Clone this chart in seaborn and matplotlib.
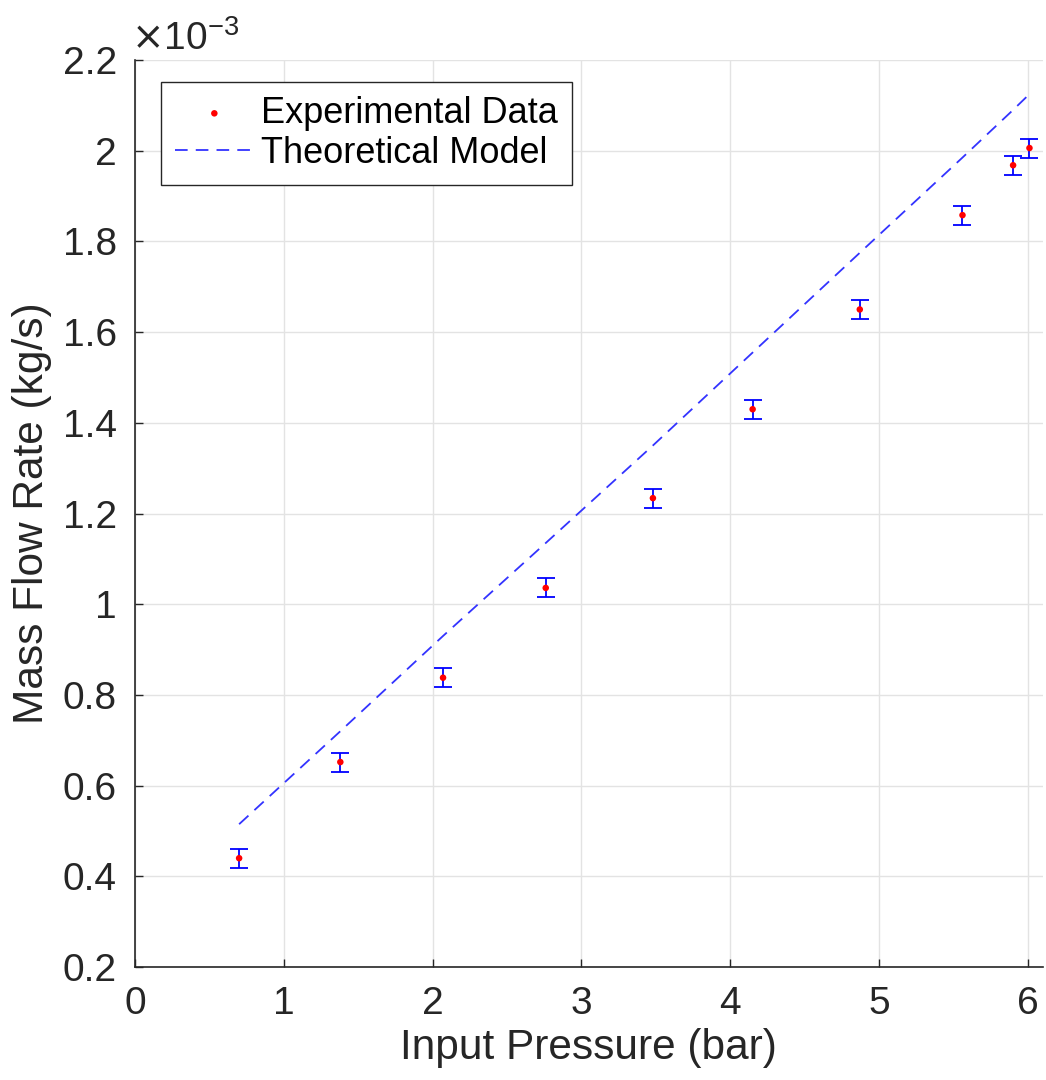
import numpy as np
import pandas as pd
import seaborn as sns
import matplotlib.pyplot as plt
from matplotlib.ticker import FuncFormatter

# mass flow values are in units of 1e-3 kg/s
pressure = [0.70, 1.38, 2.07, 2.76, 3.48, 4.15, 4.87, 5.56, 5.90, 6.01]
flow_exp = [0.440, 0.652, 0.838, 1.036, 1.234, 1.430, 1.650, 1.858, 1.968, 2.006]
flow_err = [0.021, 0.021, 0.021, 0.021, 0.021, 0.021, 0.021, 0.021, 0.021, 0.021]
flow_model = [0.515, 0.720, 0.930, 1.135, 1.350, 1.555, 1.775, 1.985, 2.090, 2.125]

exp_df = pd.DataFrame({'Pressure': pressure, 'Flow': flow_exp, 'Err': flow_err})
model_df = pd.DataFrame({'Pressure': pressure, 'Flow': flow_model})

sns.set_style('whitegrid')
plt.rcParams['font.family'] = ['Liberation Sans', 'DejaVu Sans']
text_col = '#262626'

fig = plt.figure(figsize=(10.46, 10.8), dpi=100)
ax = fig.add_axes([0.129, 0.1046, 0.868, 0.8398])

ax.errorbar(exp_df['Pressure'], exp_df['Flow'], yerr=exp_df['Err'], fmt='none',
            ecolor='#0000ff', elinewidth=1.3, capsize=6.2, capthick=1.3, zorder=2)
sns.scatterplot(x='Pressure', y='Flow', data=exp_df, color='red', s=22,
                edgecolor='none', ax=ax, zorder=3, label='Experimental Data')
sns.lineplot(x='Pressure', y='Flow', data=model_df, color='#3333ff',
             linestyle=(0, (7, 4.5)), linewidth=1.3, ax=ax, zorder=1,
             label='Theoretical Model')

ax.set_xlim(0, 6.1)
ax.set_ylim(0.2, 2.2)
ax.set_xticks(np.arange(0, 7, 1))
ax.set_yticks(np.arange(0.2, 2.21, 0.2))
ax.yaxis.set_major_formatter(FuncFormatter(lambda v, p: '%g' % round(v, 1)))

ax.grid(True, color='#e3e3e3', linewidth=1.0)
for s in ['top', 'right']:
    ax.spines[s].set_visible(False)
for s in ['left', 'bottom']:
    ax.spines[s].set_color(text_col)
    ax.spines[s].set_linewidth(1.2)

ax.tick_params(axis='both', direction='in', length=6, width=1.0, colors=text_col,
               labelsize=28, left=True, bottom=True)
ax.tick_params(axis='y', pad=13)
ax.tick_params(axis='x', pad=14)
ax.set_xlabel('Input Pressure (bar)', fontsize=30.5, color=text_col, labelpad=4)
ax.set_ylabel('Mass Flow Rate (kg/s)', fontsize=30.5, color=text_col, labelpad=8)

ax.text(-0.004, 1.011, r'$\times\mathregular{10^{-3}}$', transform=ax.transAxes,
        fontsize=28, color=text_col, ha='left', va='baseline')

leg = ax.legend(loc='upper left', bbox_to_anchor=(0.0286, 0.9757), fontsize=26,
                frameon=True, fancybox=False, framealpha=1, borderpad=0.38,
                handlelength=2.2, handletextpad=0.2, labelspacing=0.14,
                borderaxespad=0)
leg.get_frame().set_edgecolor(text_col)
leg.get_frame().set_linewidth(1.0)
for t in leg.get_texts():
    t.set_color('black')

fig.savefig('out.png', dpi=100)
